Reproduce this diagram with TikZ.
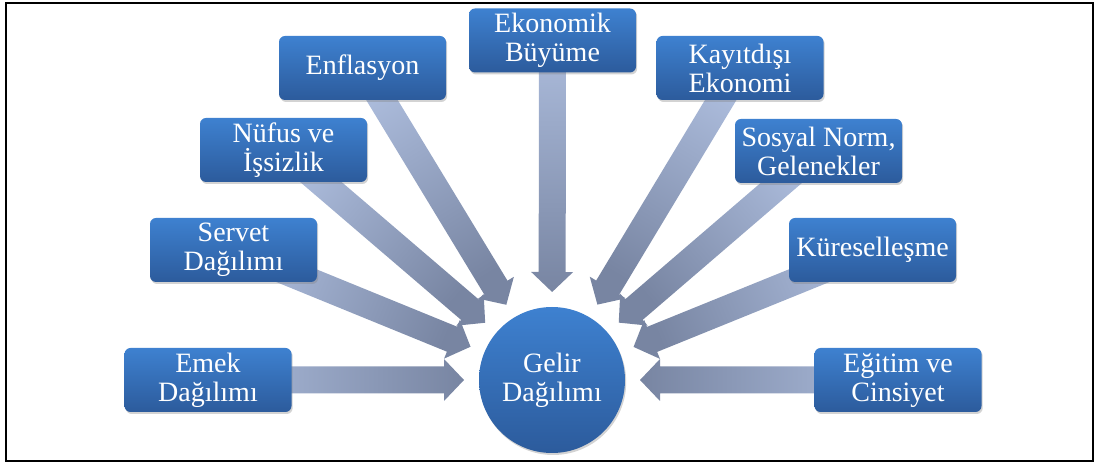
\documentclass[tikz,border=0pt]{standalone}
\usepackage{fontspec}
\setmainfont{Liberation Serif}
\usetikzlibrary{calc,shadows,backgrounds}

\definecolor{boxtop}{RGB}{62,129,208}
\definecolor{boxbottom}{RGB}{44,91,156}
\definecolor{arrowlight}{RGB}{172,188,220}
\definecolor{arrowdark}{RGB}{120,133,162}

\tikzset{
  factor/.style={rounded corners=3pt, top color=boxtop, bottom color=boxbottom,
    text=white, align=center, inner sep=1pt, minimum width=83.5pt, minimum height=32pt,
    font=\fontsize{14}{14.5}\selectfont,
    drop shadow={shadow xshift=0.6pt, shadow yshift=-1pt, opacity=0.35}},
  hub/.style={factor, circle, minimum size=73pt},
  feed/.style={top color=arrowdark, bottom color=arrowlight}
}

% block arrow from a factor towards the hub
\newcommand\feedarrow[2]{%
  \pgfmathanglebetweenpoints{\pgfpointanchor{#1}{center}}{\pgfpointanchor{#2}{center}}%
  \pgfmathsetmacro\feedangle{\pgfmathresult-90}%
  \coordinate (neck) at ($(#2.center)!54pt!(#1.center)$);
  \path[feed, shading angle=\feedangle]
    ($(#1.center)!6.75pt!90:(#2.center)$) -- ($(neck)!6.75pt!90:(#2.center)$)
    -- ($(neck)!10.5pt!90:(#2.center)$) -- ($(#2.center)!44pt!(#1.center)$)
    -- ($(neck)!10.5pt!-90:(#2.center)$) -- ($(neck)!6.75pt!-90:(#2.center)$)
    -- ($(#1.center)!6.75pt!-90:(#2.center)$) -- cycle;%
}

\begin{document}
\begin{tikzpicture}[x=0.5pt, y={(0pt,-0.5pt)}]
        \useasboundingbox (0,0) rectangle (1099,464);
        \node[hub] (gelir) at (552,380) {Gelir\\Dağılımı};
        \foreach \name/\x/\y/\txt in {emek/208/380/{Emek\\Dağılımı},
            servet/233.5/250/{Servet\\Dağılımı}, nufus/283.5/150/{Nüfus ve\\İşsizlik},
            enflasyon/362.5/68/{Enflasyon}, ekonomik/552.5/40.5/{Ekonomik\\Büyüme},
            kayitdisi/740/68/{Kayıtdışı\\Ekonomi}, sosyal/818.5/151/{Sosyal Norm,\\Gelenekler},
            kuresel/872.5/250/{Küreselleşme}, egitim/898/380/{Eğitim ve\\Cinsiyet}}
            {%
                \node[factor] (\name) at (\x,\y) {\txt};
            }
        \begin{pgfonlayer}{background}
            \foreach \name in {emek,servet,nufus,enflasyon,ekonomik,kayitdisi,sosyal,kuresel,egitim}
                {\feedarrow{\name}{gelir}}
        \end{pgfonlayer}
        \draw[line width=1pt] (6,3) rectangle (1093,461);
\end{tikzpicture}
\end{document}
